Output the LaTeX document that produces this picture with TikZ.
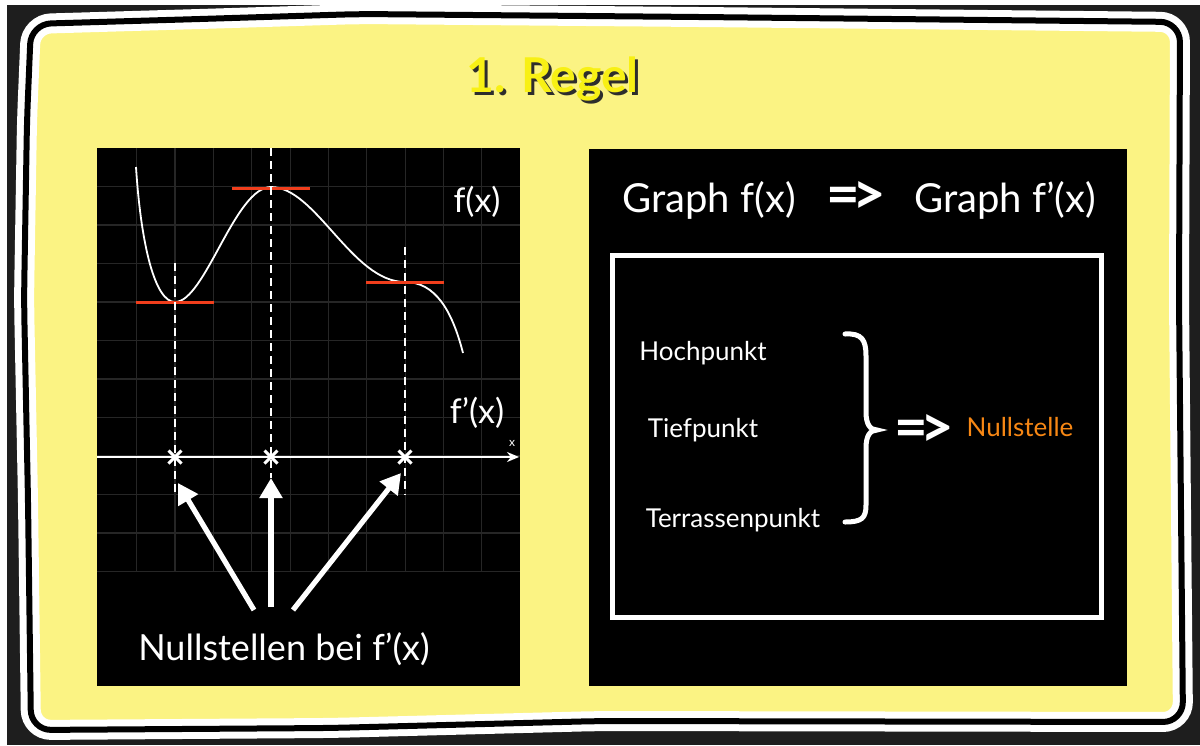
\documentclass[tikz,border=0pt]{standalone}
\usepackage{fontspec}
\setmainfont{Lato}
\usetikzlibrary{arrows.meta,shapes.misc}
\definecolor{bgyellow}{RGB}{251,243,131}
\definecolor{titleyellow}{RGB}{248,240,20}
\definecolor{shadowgray}{RGB}{45,45,45}
\definecolor{tanred}{RGB}{240,62,28}
\definecolor{nullorange}{RGB}{247,135,20}
\definecolor{gridgray}{RGB}{38,38,38}
\definecolor{outerdark}{RGB}{30,30,30}
\newcommand{\implies}{=\kern-4pt>}
\begin{document}
\begin{tikzpicture}[x=0.5pt,y=-0.5pt,
  txt/.style={text=white, inner sep=0pt, anchor=base},
  bigarrow/.style={white, line width=2.6pt, -{Triangle[length=10pt,width=11pt]}},
  tangent/.style={tanred, line width=1.5pt},
  dashv/.style={white, line width=1pt, dash pattern=on 4pt off 2.5pt},
  gridline/.style={gridgray, line width=0.6pt},
  zero/.style={cross out, draw=white, line width=1.5pt, minimum size=5pt, inner sep=0pt},
  panel/.style={fill=black}]
\useasboundingbox (0,0) rectangle (1200,745);
\fill[white] (0,0) rectangle (1200,745);
\fill[outerdark] (7,5) rectangle (1200,745);
% hand-drawn frame
\path[fill=bgyellow, rounded corners=10pt,
      postaction={draw=white, line width=10pt, rounded corners=10pt},
      postaction={draw=black, line width=3pt, rounded corners=10pt}]
  (27,120) -- (31,24) -- (200,19) -- (360,14) -- (700,17) -- (1180,22)
  -- (1179,300) -- (1183,722) -- (600,721) -- (330,728) -- (31,730)
  -- (28,500) -- (24,300) -- cycle;
% title
\node[txt, text=shadowgray, font=\bfseries\fontsize{24}{28}\selectfont] (titlesh) at (555.5,95) {1. Regel};
\node[txt, text=titleyellow, font=\bfseries\fontsize{24}{28}\selectfont] (title) at (552.5,92) {1. Regel};
% left panel
\fill[panel] (97,148) rectangle (520,686);
\foreach \i in {0,...,9} \draw[gridline] ({136.7+38.35*\i},148) -- ({136.7+38.35*\i},572);
\foreach \j in {1,...,11} \draw[gridline] (97,{148+38.5*\j}) -- (520,{148+38.5*\j});
\coordinate (axL) at (97,457);
\coordinate (axR) at (519,457);
\draw[white, line width=1pt, -{Stealth[length=6pt,width=5pt]}] (axL) -- (axR);
\node[txt, font=\fontsize{6}{7}\selectfont] (xlab) at (512,446) {x};
% curve f(x)
\draw[white, line width=0.9pt] (136,167) .. controls (141,245) and (155,302) .. (175,302)
  .. controls (205,302) and (235,187) .. (271,187)
  .. controls (316,187) and (352,282) .. (405,282)
  .. controls (435,282) and (452,310) .. (463,353);
% tangents
\draw[tangent] (136,302) -- (214,302);
\draw[tangent] (232,188) -- (310,188);
\draw[tangent] (366,282) -- (444,282);
% dashed verticals
\draw[dashv] (175,263) -- (175,495);
\draw[dashv] (271,148) -- (271,478);
\draw[dashv] (405,247) -- (405,495);
% zeros
\node[zero] (z1) at (175,457) {};
\node[zero] (z2) at (271,457) {};
\node[zero] (z3) at (405,457) {};
% labels
\node[txt, font=\fontsize{17}{20}\selectfont] (fx) at (477,212) {f(x)};
\node[txt, font=\fontsize{17}{20}\selectfont] (fpx) at (477,423) {f'(x)};
\node[txt, font=\fontsize{18}{22}\selectfont] (nb) at (284,660) {Nullstellen bei f'(x)};
% arrows
\coordinate (a1s) at (254,610); \coordinate (a1e) at (178,483);
\coordinate (a2s) at (271,607); \coordinate (a2e) at (271,478);
\coordinate (a3s) at (293,610); \coordinate (a3e) at (401,473);
\draw[bigarrow] (a1s) -- (a1e);
\draw[bigarrow] (a2s) -- (a2e);
\draw[bigarrow] (a3s) -- (a3e);
% right panel
\fill[panel] (589,149) rectangle (1127,686);
\node[txt, font=\fontsize{20}{24}\selectfont] (g1) at (709,212) {Graph f(x)};
\node[txt, font=\bfseries\fontsize{29}{32}\selectfont] (impl1) at (856,214) {\implies};
\node[txt, font=\fontsize{20}{24}\selectfont] (g2) at (1005,212) {Graph f'(x)};
\draw[white, line width=2.5pt] (612.5,255.5) rectangle (1101.5,617.5);
\node[txt, font=\fontsize{13}{16}\selectfont] (hp) at (703,360) {Hochpunkt};
\node[txt, font=\fontsize{13}{16}\selectfont] (tp) at (703,437) {Tiefpunkt};
\node[txt, font=\fontsize{13}{16}\selectfont] (trp) at (733,527) {Terrassenpunkt};
\draw[white, line width=2.5pt, line cap=round]
  (845,334) .. controls (862,333) and (866,340) .. (866,356) -- (866,412)
  .. controls (866,424) and (870,430) .. (877,430)
  .. controls (870,430) and (866,436) .. (866,448) -- (866,505)
  .. controls (866,518) and (862,522) .. (845,522);
\node[txt, font=\bfseries\fontsize{29}{32}\selectfont] (impl2) at (924,447) {\implies};
\node[txt, text=nullorange, font=\fontsize{13}{16}\selectfont] (ns) at (1020,436) {Nullstelle};
\end{tikzpicture}
\end{document}
